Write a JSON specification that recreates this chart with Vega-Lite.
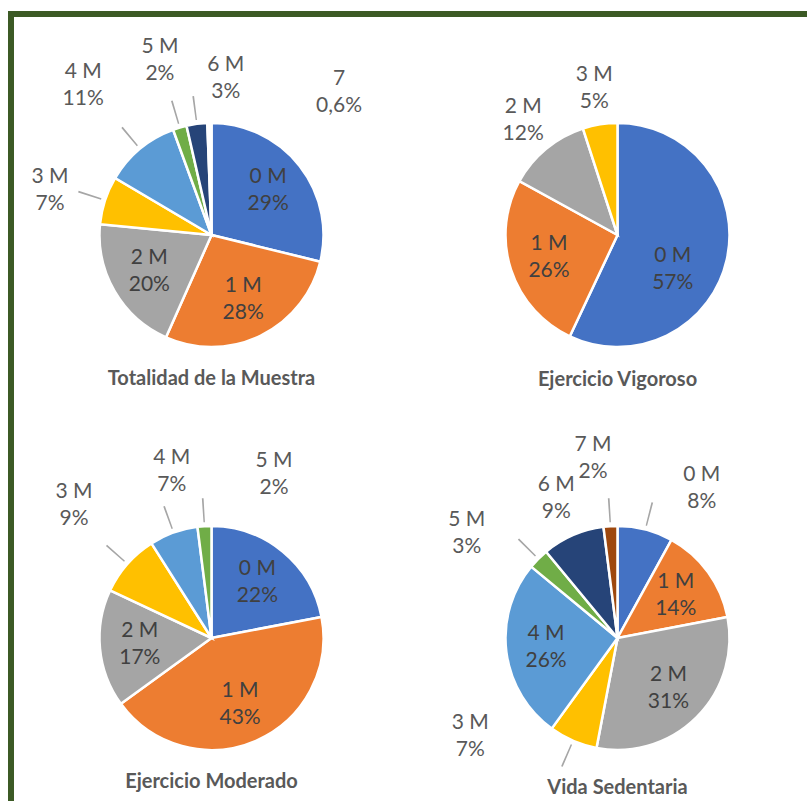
{
  "$schema": "https://vega.github.io/schema/vega-lite/v6.json",
  "padding": {"left": 8, "top": 11, "right": 0, "bottom": 0},
  "background": "#ffffff",
  "config": {
    "view": {"stroke": null},
    "font": "Lato",
    "text": {"fontSize": 21, "lineHeight": 27, "lineBreak": "\n", "align": "center", "baseline": "middle", "color": "#595959"},
    "title": {"orient": "bottom", "frame": "group", "anchor": "middle", "font": "Lato", "fontSize": 20, "fontWeight": "bold", "color": "#595959"}
  },
  "data": {"values": [
    {"chart": "Totalidad de la Muestra", "k": 0, "cat": "0 M", "value": 29},
    {"chart": "Totalidad de la Muestra", "k": 1, "cat": "1 M", "value": 28},
    {"chart": "Totalidad de la Muestra", "k": 2, "cat": "2 M", "value": 20},
    {"chart": "Totalidad de la Muestra", "k": 3, "cat": "3 M", "value": 7},
    {"chart": "Totalidad de la Muestra", "k": 4, "cat": "4 M", "value": 11},
    {"chart": "Totalidad de la Muestra", "k": 5, "cat": "5 M", "value": 2},
    {"chart": "Totalidad de la Muestra", "k": 6, "cat": "6 M", "value": 3},
    {"chart": "Totalidad de la Muestra", "k": 7, "cat": "7", "value": 0.6},
    {"chart": "Ejercicio Vigoroso", "k": 0, "cat": "0 M", "value": 57},
    {"chart": "Ejercicio Vigoroso", "k": 1, "cat": "1 M", "value": 26},
    {"chart": "Ejercicio Vigoroso", "k": 2, "cat": "2 M", "value": 12},
    {"chart": "Ejercicio Vigoroso", "k": 3, "cat": "3 M", "value": 5},
    {"chart": "Ejercicio Moderado", "k": 0, "cat": "0 M", "value": 22},
    {"chart": "Ejercicio Moderado", "k": 1, "cat": "1 M", "value": 43},
    {"chart": "Ejercicio Moderado", "k": 2, "cat": "2 M", "value": 17},
    {"chart": "Ejercicio Moderado", "k": 3, "cat": "3 M", "value": 9},
    {"chart": "Ejercicio Moderado", "k": 4, "cat": "4 M", "value": 7},
    {"chart": "Ejercicio Moderado", "k": 5, "cat": "5 M", "value": 2},
    {"chart": "Vida Sedentaria", "k": 0, "cat": "0 M", "value": 8},
    {"chart": "Vida Sedentaria", "k": 1, "cat": "1 M", "value": 14},
    {"chart": "Vida Sedentaria", "k": 2, "cat": "2 M", "value": 31},
    {"chart": "Vida Sedentaria", "k": 3, "cat": "3 M", "value": 7},
    {"chart": "Vida Sedentaria", "k": 4, "cat": "4 M", "value": 26},
    {"chart": "Vida Sedentaria", "k": 5, "cat": "5 M", "value": 3},
    {"chart": "Vida Sedentaria", "k": 6, "cat": "6 M", "value": 9},
    {"chart": "Vida Sedentaria", "k": 7, "cat": "7 M", "value": 2}
  ]},
  "transform": [
    {"joinaggregate": [{"op": "sum", "field": "value", "as": "total"}], "groupby": ["chart"]},
    {"window": [{"op": "sum", "field": "value", "as": "cum"}], "groupby": ["chart"], "sort": [{"field": "k", "order": "ascending"}], "frame": [null, 0]},
    {"calculate": "(datum.cum - datum.value) / datum.total", "as": "t0"},
    {"calculate": "datum.cum / datum.total", "as": "t1"},
    {"calculate": "(datum.t0 + datum.t1) / 2", "as": "tm"},
    {"calculate": "datum.tm - 0.001", "as": "la"},
    {"calculate": "datum.tm + 0.001", "as": "lb"},
    {"calculate": "datum.cat + '\\n' + replace(toString(datum.value), '.', ',') + '%'", "as": "label"}
  ],
  "spacing": 0,
  "bounds": "flush",
  "vconcat": [
    {"width": 799, "height": 6, "data": {"values": []}, "mark": {"type": "point"}, "encoding": {}, "view": {"fill": "#3c5a25", "stroke": null}},
    {
      "spacing": 47,
      "bounds": "flush",
      "hconcat": [
        {"width": 6, "height": 784, "data": {"values": []}, "mark": {"type": "point"}, "encoding": {}, "view": {"fill": "#3c5a25", "stroke": null}},
        {
          "spacing": 0,
          "bounds": "flush",
          "vconcat": [
            {"width": 1, "height": 93, "data": {"values": []}, "mark": {"type": "point"}, "encoding": {}},
            {
              "columns": 2,
              "spacing": {"row": 153, "column": 105},
              "bounds": "flush",
              "concat": [
                {
                  "width": 301, "height": 250,
                  "title": {"text": "Totalidad de la Muestra", "offset": 8.5},
                  "transform": [{"filter": "datum.chart === 'Totalidad de la Muestra'"}],
                  "layer": [
                    {"mark": {"type": "arc", "outerRadius": 112, "stroke": "#ffffff", "strokeWidth": 2.5},
                     "encoding": {"theta": {"field": "t0", "type": "quantitative", "scale": {"domain": [0, 1]}, "stack": null}, "theta2": {"field": "t1"},
                       "color": {"field": "k", "type": "nominal", "scale": {"domain": [0, 1, 2, 3, 4, 5, 6, 7], "range": ["#4472c4", "#ed7d31", "#a5a5a5", "#ffc000", "#5b9bd5", "#70ad47", "#264478", "#9e480e"]}, "legend": null},
                       "fillOpacity": {"condition": {"test": "datum.k === 7", "value": 0}, "value": 1}}},
                    {"transform": [{"filter": "datum.value < 13 && datum.value >= 1"}],
                     "mark": {"type": "arc", "innerRadius": 116, "outerRadius": 140, "color": "#a6a6a6"},
                     "encoding": {"theta": {"field": "la", "type": "quantitative", "scale": {"domain": [0, 1]}, "stack": null}, "theta2": {"field": "lb"}}},
                    {"transform": [{"filter": "datum.value >= 13"}],
                     "mark": {"type": "text", "radius": 72, "dy": -13.5, "color": "#404040"},
                     "encoding": {"theta": {"field": "tm", "type": "quantitative", "scale": {"domain": [0, 1]}, "stack": null}, "text": {"field": "label"}}},
                    {"transform": [{"filter": "datum.k === 5"}],
                     "mark": {"type": "text", "radius": 182, "dy": -13.5},
                     "encoding": {"theta": {"field": "tm", "type": "quantitative", "scale": {"domain": [0, 1]}, "stack": null}, "text": {"field": "label"}}},
                    {"transform": [{"filter": "datum.k === 3"}],
                     "mark": {"type": "text", "radius": 182, "dx": 11.5, "dy": -2},
                     "encoding": {"theta": {"field": "tm", "type": "quantitative", "scale": {"domain": [0, 1]}, "stack": null}, "text": {"field": "label"}}},
                    {"transform": [{"filter": "datum.k === 4"}],
                     "mark": {"type": "text", "radius": 182, "dx": -12, "dy": -23},
                     "encoding": {"theta": {"field": "tm", "type": "quantitative", "scale": {"domain": [0, 1]}, "stack": null}, "text": {"field": "label"}}},
                    {"transform": [{"filter": "datum.k === 6"}],
                     "mark": {"type": "text", "radius": 182, "dx": 38, "dy": 10},
                     "encoding": {"theta": {"field": "tm", "type": "quantitative", "scale": {"domain": [0, 1]}, "stack": null}, "text": {"field": "label"}}},
                    {"transform": [{"filter": "datum.k === 7"}],
                     "mark": {"type": "text", "radius": 182, "dx": 131, "dy": 25.5},
                     "encoding": {"theta": {"field": "tm", "type": "quantitative", "scale": {"domain": [0, 1]}, "stack": null}, "text": {"field": "label"}}}
                  ]
                },
                {
                  "width": 301, "height": 250,
                  "title": {"text": "Ejercicio Vigoroso", "offset": 9.5},
                  "transform": [{"filter": "datum.chart === 'Ejercicio Vigoroso'"}],
                  "layer": [
                    {"mark": {"type": "arc", "outerRadius": 112, "stroke": "#ffffff", "strokeWidth": 2.5},
                     "encoding": {"theta": {"field": "t0", "type": "quantitative", "scale": {"domain": [0, 1]}, "stack": null}, "theta2": {"field": "t1"},
                       "color": {"field": "k", "type": "nominal", "scale": {"domain": [0, 1, 2, 3, 4, 5, 6, 7], "range": ["#4472c4", "#ed7d31", "#a5a5a5", "#ffc000", "#5b9bd5", "#70ad47", "#264478", "#9e480e"]}, "legend": null}}},
                    {"transform": [{"filter": "datum.k === 1"}],
                     "mark": {"type": "text", "radius": 72, "dy": -13.5, "color": "#404040"},
                     "encoding": {"theta": {"field": "tm", "type": "quantitative", "scale": {"domain": [0, 1]}, "stack": null}, "text": {"field": "label"}}},
                    {"transform": [{"filter": "datum.k === 0"}],
                     "mark": {"type": "text", "radius": 72, "dx": -15, "dy": 5.5, "color": "#404040"},
                     "encoding": {"theta": {"field": "tm", "type": "quantitative", "scale": {"domain": [0, 1]}, "stack": null}, "text": {"field": "label"}}},
                    {"transform": [{"filter": "datum.value < 13"}],
                     "mark": {"type": "text", "radius": 148, "dy": -13.5},
                     "encoding": {"theta": {"field": "tm", "type": "quantitative", "scale": {"domain": [0, 1]}, "stack": null}, "text": {"field": "label"}}}
                  ]
                },
                {
                  "width": 301, "height": 250,
                  "title": {"text": "Ejercicio Moderado", "offset": 8.5},
                  "transform": [{"filter": "datum.chart === 'Ejercicio Moderado'"}],
                  "layer": [
                    {"mark": {"type": "arc", "outerRadius": 112, "stroke": "#ffffff", "strokeWidth": 2.5},
                     "encoding": {"theta": {"field": "t0", "type": "quantitative", "scale": {"domain": [0, 1]}, "stack": null}, "theta2": {"field": "t1"},
                       "color": {"field": "k", "type": "nominal", "scale": {"domain": [0, 1, 2, 3, 4, 5, 6, 7], "range": ["#4472c4", "#ed7d31", "#a5a5a5", "#ffc000", "#5b9bd5", "#70ad47", "#264478", "#9e480e"]}, "legend": null}}},
                    {"transform": [{"filter": "datum.value < 13"}],
                     "mark": {"type": "arc", "innerRadius": 116, "outerRadius": 140, "color": "#a6a6a6"},
                     "encoding": {"theta": {"field": "la", "type": "quantitative", "scale": {"domain": [0, 1]}, "stack": null}, "theta2": {"field": "lb"}}},
                    {"transform": [{"filter": "datum.value >= 13"}],
                     "mark": {"type": "text", "radius": 72, "dy": -13.5, "color": "#404040"},
                     "encoding": {"theta": {"field": "tm", "type": "quantitative", "scale": {"domain": [0, 1]}, "stack": null}, "text": {"field": "label"}}},
                    {"transform": [{"filter": "datum.k === 3"}],
                     "mark": {"type": "text", "radius": 182, "dx": -1, "dy": -26},
                     "encoding": {"theta": {"field": "tm", "type": "quantitative", "scale": {"domain": [0, 1]}, "stack": null}, "text": {"field": "label"}}},
                    {"transform": [{"filter": "datum.k === 4"}],
                     "mark": {"type": "text", "radius": 182, "dx": 22, "dy": -8.5},
                     "encoding": {"theta": {"field": "tm", "type": "quantitative", "scale": {"domain": [0, 1]}, "stack": null}, "text": {"field": "label"}}},
                    {"transform": [{"filter": "datum.k === 5"}],
                     "mark": {"type": "text", "radius": 182, "dx": 74, "dy": 4.5},
                     "encoding": {"theta": {"field": "tm", "type": "quantitative", "scale": {"domain": [0, 1]}, "stack": null}, "text": {"field": "label"}}}
                  ]
                },
                {
                  "width": 301, "height": 250,
                  "title": {"text": "Vida Sedentaria", "offset": 11.5},
                  "transform": [{"filter": "datum.chart === 'Vida Sedentaria'"}],
                  "layer": [
                    {"mark": {"type": "arc", "outerRadius": 112, "stroke": "#ffffff", "strokeWidth": 2.5},
                     "encoding": {"theta": {"field": "t0", "type": "quantitative", "scale": {"domain": [0, 1]}, "stack": null}, "theta2": {"field": "t1"},
                       "color": {"field": "k", "type": "nominal", "scale": {"domain": [0, 1, 2, 3, 4, 5, 6, 7], "range": ["#4472c4", "#ed7d31", "#a5a5a5", "#ffc000", "#5b9bd5", "#70ad47", "#264478", "#9e480e"]}, "legend": null}}},
                    {"transform": [{"filter": "datum.value < 13 && datum.k !== 6"}],
                     "mark": {"type": "arc", "innerRadius": 116, "outerRadius": 140, "color": "#a6a6a6"},
                     "encoding": {"theta": {"field": "la", "type": "quantitative", "scale": {"domain": [0, 1]}, "stack": null}, "theta2": {"field": "lb"}}},
                    {"transform": [{"filter": "datum.value >= 13"}],
                     "mark": {"type": "text", "radius": 72, "dy": -13.5, "color": "#404040"},
                     "encoding": {"theta": {"field": "tm", "type": "quantitative", "scale": {"domain": [0, 1]}, "stack": null}, "text": {"field": "label"}}},
                    {"transform": [{"filter": "datum.k === 0"}],
                     "mark": {"type": "text", "radius": 182, "dx": 39, "dy": 13.5},
                     "encoding": {"theta": {"field": "tm", "type": "quantitative", "scale": {"domain": [0, 1]}, "stack": null}, "text": {"field": "label"}}},
                    {"transform": [{"filter": "datum.k === 3"}],
                     "mark": {"type": "text", "radius": 182, "dx": -75, "dy": -82},
                     "encoding": {"theta": {"field": "tm", "type": "quantitative", "scale": {"domain": [0, 1]}, "stack": null}, "text": {"field": "label"}}},
                    {"transform": [{"filter": "datum.k === 5"}],
                     "mark": {"type": "text", "radius": 182, "dx": -22, "dy": 10.5},
                     "encoding": {"theta": {"field": "tm", "type": "quantitative", "scale": {"domain": [0, 1]}, "stack": null}, "text": {"field": "label"}}},
                    {"transform": [{"filter": "datum.k === 6"}],
                     "mark": {"type": "text", "radius": 182, "dx": 11, "dy": 14.5},
                     "encoding": {"theta": {"field": "tm", "type": "quantitative", "scale": {"domain": [0, 1]}, "stack": null}, "text": {"field": "label"}}},
                    {"transform": [{"filter": "datum.k === 7"}],
                     "mark": {"type": "text", "radius": 182, "dx": -13, "dy": -11.5},
                     "encoding": {"theta": {"field": "tm", "type": "quantitative", "scale": {"domain": [0, 1]}, "stack": null}, "text": {"field": "label"}}}
                  ]
                }
              ]
            }
          ]
        }
      ]
    }
  ]
}
